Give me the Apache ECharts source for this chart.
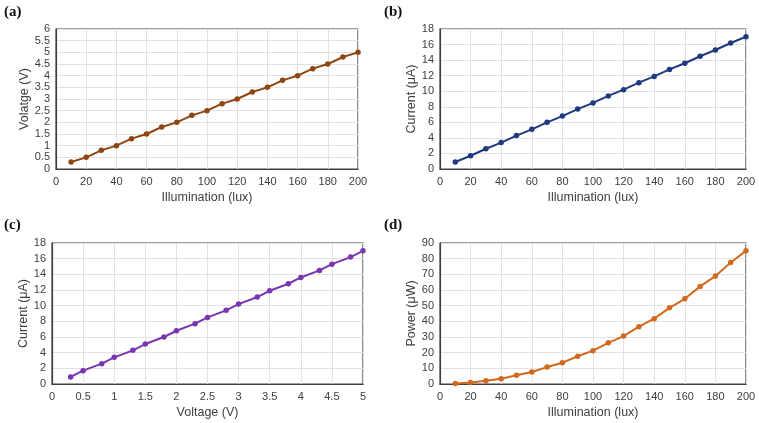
<!DOCTYPE html>
<html><head><meta charset="utf-8">
<script src="https://cdn.jsdelivr.net/npm/echarts@6/dist/echarts.min.js"></script>
<style>html,body{margin:0;padding:0;background:#fff}#c{width:759px;height:423px}</style>
</head><body><div id="c"></div>
<script>
const illum = [10,20,30,40,50,60,70,80,90,100,110,120,130,140,150,160,170,180,190,200];
const voltage = [0.3,0.5,0.8,1.0,1.3,1.5,1.8,2.0,2.3,2.5,2.8,3.0,3.3,3.5,3.8,4.0,4.3,4.5,4.8,5.0];
const current = [0.9,1.7,2.6,3.4,4.3,5.1,6.0,6.8,7.7,8.5,9.4,10.2,11.1,11.9,12.8,13.6,14.5,15.3,16.2,17.0];
const power = [0.3,0.9,2.1,3.4,5.6,7.7,10.8,13.6,17.7,21.3,26.3,30.6,36.6,41.7,48.6,54.4,62.3,68.9,77.6,85.0];
const panelLabels = ['(a)','(b)','(c)','(d)'];

const chart = echarts.init(document.getElementById('c'));
const grids = [
  {left:56, top:29, width:302, height:140},
  {left:440, top:29, width:306, height:140},
  {left:52, top:243, width:311, height:141},
  {left:440, top:243, width:306, height:141}
];
const txt = '#404040';
function xAx(i, name, max, interval){
  return {gridIndex:i, type:'value', min:0, max:max, interval:interval, name:name,
    nameLocation:'middle', nameGap:22, nameTextStyle:{fontFamily:'Liberation Sans', fontSize:12.5, color:txt},
    axisLine:{show:true, onZero:false, lineStyle:{color:'#404040', width:1.2}}, axisTick:{show:false},
    axisLabel:{fontFamily:'Liberation Sans', fontSize:11, color:txt, margin:7},
    splitLine:{show:true, lineStyle:{color:'#e2e2e2', width:1}}};
}
function yAx(i, name, max, interval, gap){
  return {gridIndex:i, type:'value', min:0, max:max, interval:interval, name:name,
    nameLocation:'middle', nameGap:gap, nameRotate:90, nameTextStyle:{fontFamily:'Liberation Sans', fontSize:12.5, color:txt},
    axisLine:{show:true, lineStyle:{color:'#404040', width:1.2}}, axisTick:{show:false},
    axisLabel:{fontFamily:'Liberation Sans', fontSize:11, color:txt, margin:6},
    splitLine:{show:true, lineStyle:{color:'#e2e2e2', width:1}}};
}
function ser(i, xs, ys, color){
  return {type:'line', xAxisIndex:i, yAxisIndex:i, data:xs.map((x,k)=>[x,ys[k]]),
    symbol:'circle', symbolSize:5.5, lineStyle:{color:color, width:2}, itemStyle:{color:color},
    silent:true, animation:false};
}
const labelPos = [[4,5],[384,5],[4,218],[384,218]];
chart.setOption({
  animation:false,
  grid: grids.map(g=>Object.assign({show:true, borderColor:'#404040', borderWidth:1.2, backgroundColor:'transparent'}, g)),
  xAxis:[xAx(0,'Illumination (lux)',200,20), xAx(1,'Illumination (lux)',200,20), xAx(2,'Voltage (V)',5,0.5), xAx(3,'Illumination (lux)',200,20)],
  yAxis:[yAx(0,'Volatge (V)',6,0.5,25), yAx(1,'Current (μA)',18,2,21), yAx(2,'Current (μA)',18,2,22), yAx(3,'Power (μW)',90,10,21)],
  series:[
    ser(0, illum, voltage, '#8E4512'),
    ser(1, illum, current, '#1F3A7D'),
    ser(2, voltage, current, '#7A35B0'),
    ser(3, illum, power, '#D2691E')
  ],
  graphic: panelLabels.map((t,i)=>({type:'text', left:labelPos[i][0], top:labelPos[i][1],
    style:{text:t, font:'bold 15px "Liberation Serif"', fill:'#111'}}))
});
</script></body></html>
